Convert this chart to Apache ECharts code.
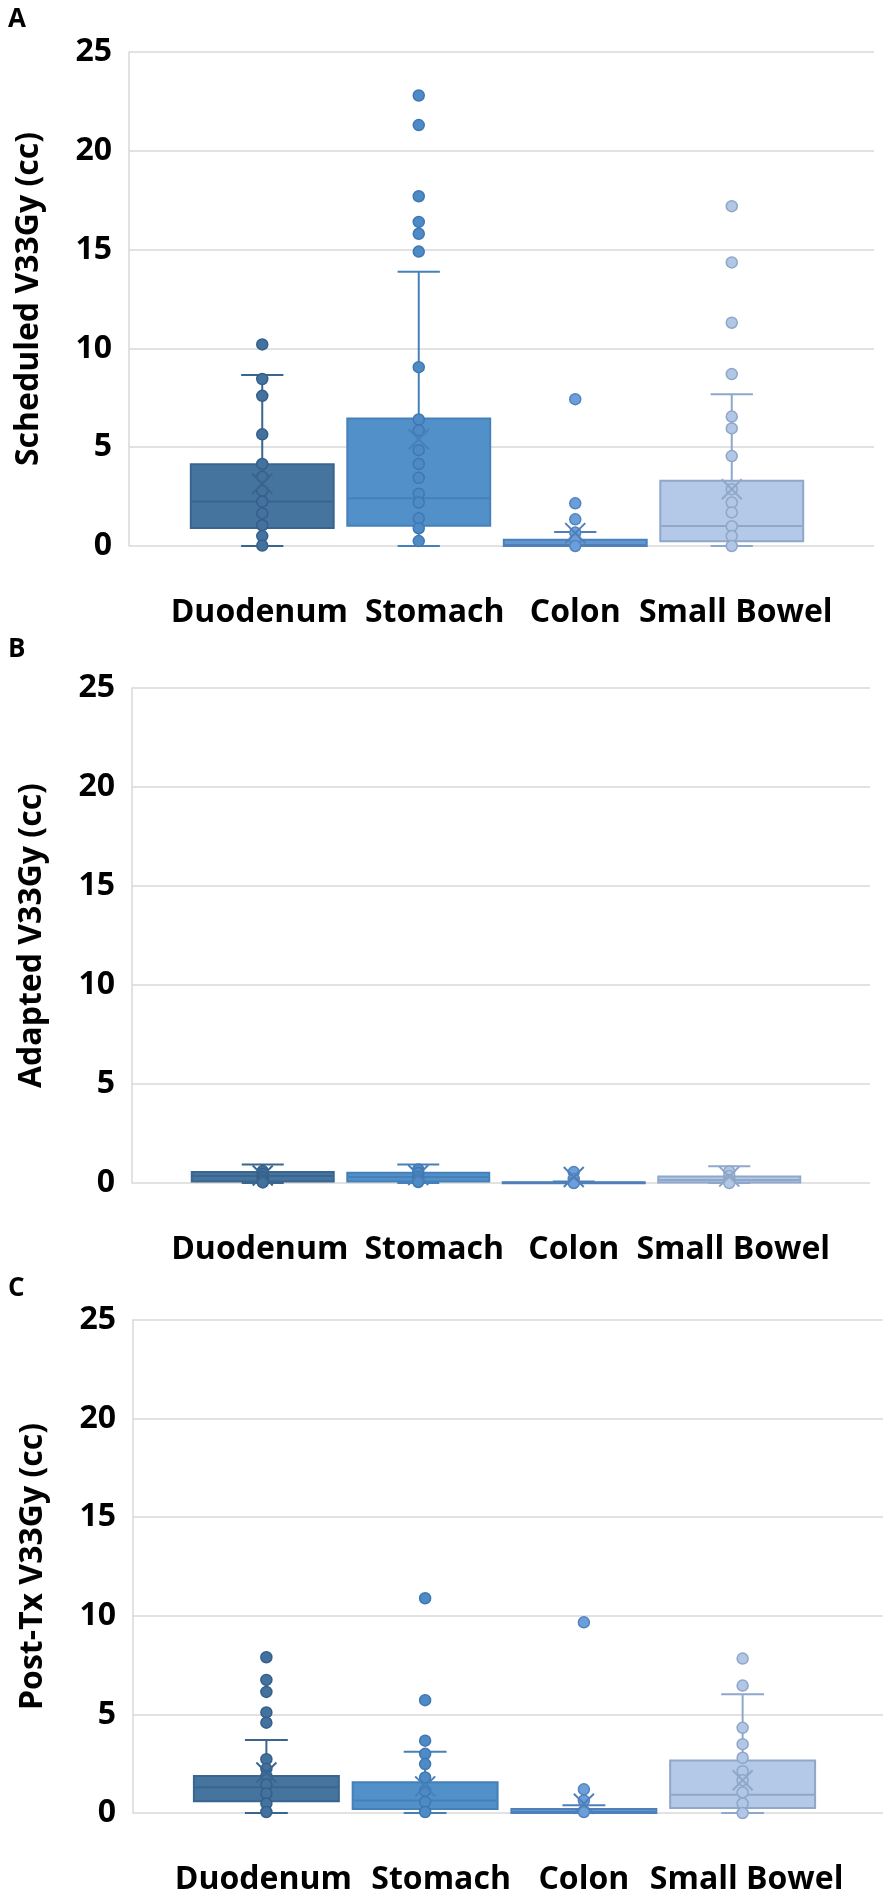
<!DOCTYPE html>
<html>
<head>
<meta charset="utf-8">
<script src="https://cdn.jsdelivr.net/npm/echarts/dist/echarts.min.js"></script>
<style>
html,body{margin:0;padding:0;background:#fff;}
#chart{width:886px;height:1896px;}
</style>
</head>
<body>
<div id="chart"></div>
<script>
// ---------- DATA ----------
const categories = ['Duodenum', 'Stomach', 'Colon', 'Small Bowel'];
const yTicks = [0, 5, 10, 15, 20, 25];

// Box stats per category: [min whisker, Q1, median, Q3, max whisker]
const schedBox = [
  [0, 0.91, 2.25, 4.14, 8.65],
  [0, 1.03, 2.42, 6.45, 13.88],
  [0, 0, 0.05, 0.32, 0.71],
  [0, 0.24, 1.01, 3.30, 7.68]
];
const schedMean = [3.15, 5.4, 0.65, 2.87];
const schedDuodenum = [10.2, 8.45, 7.6, 5.65, 4.15, 3.5, 2.8, 2.25, 1.65, 1.05, 0.5, 0.02];
const schedStomach = [22.8, 21.3, 17.7, 16.4, 15.8, 14.9, 9.05, 6.4, 5.85, 4.85, 4.15, 3.45, 2.65, 2.2, 1.4, 0.9, 0.25];
const schedColon = [7.43, 2.16, 1.35, 0.68, 0.32, 0];
const schedSmallBowel = [17.2, 14.35, 11.3, 8.7, 6.55, 5.95, 4.55, 2.87, 2.2, 1.7, 1.0, 0.5, 0];

const adaptBox = [
  [0, 0.08, 0.35, 0.55, 0.94],
  [0, 0.08, 0.3, 0.52, 0.94],
  [0, 0, 0.01, 0.04, 0.08],
  [0, 0.03, 0.15, 0.33, 0.84]
];
const adaptMean = [0.38, 0.4, 0.3, 0.33];
const adaptDuodenum = [0.6, 0.45, 0.3, 0.15, 0.03];
const adaptStomach = [0.68, 0.5, 0.3, 0.15, 0.05];
const adaptColon = [0.55, 0.2, 0.02, 0];
const adaptSmallBowel = [0.58, 0.35, 0.15, 0.05, 0];

const postBox = [
  [0, 0.6, 1.31, 1.87, 3.7],
  [0, 0.2, 0.64, 1.56, 3.1],
  [0, 0, 0.05, 0.2, 0.39],
  [0, 0.25, 0.93, 2.66, 6.02]
];
const postMean = [2.05, 1.35, 0.47, 1.66];
const postDuodenum = [7.9, 6.75, 6.14, 5.1, 4.58, 2.73, 2.24, 1.87, 1.44, 0.99, 0.48, 0.05];
const postStomach = [10.89, 5.72, 3.67, 3.0, 2.48, 1.8, 1.12, 0.56, 0.05];
const postColon = [9.67, 1.2, 0.64, 0.05];
const postSmallBowel = [7.83, 6.46, 4.32, 3.49, 2.8, 2.12, 1.66, 1.04, 0.48, 0];

// ---------- STYLE ----------
const FONT = "'Open Sans', 'Liberation Sans', sans-serif";
const boxFill   = ['#45749f', '#5290c9', '#6096d2', '#b4c8e7'];
const boxStroke = ['#3a658f', '#4680b9', '#4e7fb8', '#8fa7c9'];
const ptFill    = ['#43729e', '#4e8bc6', '#6a9fdb', '#b2c7e6'];
const ptStroke  = ['#355f8a', '#3f78b1', '#5483bd', '#8ea6c8'];
const labelPad  = [[0, 6, 0, 0], [0, 0, 0, 32], [0, 0, 0, 0], [0, 0, 0, 8]];
const gridColor = '#d9d9d9';

const panels = [
  { letter: 'A', letterTop: 7, title: 'Scheduled V33Gy (cc)', box: schedBox, mean: schedMean,
    pts: [schedDuodenum, schedStomach, schedColon, schedSmallBowel],
    outer: { left: 129, right: 12, top: 52, height: 494 },
    inner: { left: 184, right: 76, top: 52, height: 494 } },
  { letter: 'B', letterTop: 637, title: 'Adapted V33Gy (cc)', box: adaptBox, mean: adaptMean,
    pts: [adaptDuodenum, adaptStomach, adaptColon, adaptSmallBowel],
    outer: { left: 132, right: 16, top: 688, height: 495 },
    inner: { left: 185, right: 79, top: 688, height: 495 } },
  { letter: 'C', letterTop: 1276, title: 'Post-Tx V33Gy (cc)', box: postBox, mean: postMean,
    pts: [postDuodenum, postStomach, postColon, postSmallBowel],
    outer: { left: 133, right: 3, top: 1320, height: 493 },
    inner: { left: 187, right: 64, top: 1320, height: 493 } }
];

function boxRender(params, api) {
  const i = api.value(0);
  const band = api.size([1, 0])[0];
  const bw = band * 0.913, cw = band * 0.27;
  const c = v => api.coord([i, v]);
  const pMin = c(api.value(1)), pQ1 = c(api.value(2)), pMed = c(api.value(3)),
        pQ3 = c(api.value(4)), pMax = c(api.value(5));
  const cx = pMin[0];
  const fill = boxFill[i], stroke = boxStroke[i];
  const ls = { stroke: stroke, lineWidth: 2 };
  return { type: 'group', children: [
    { type: 'line', shape: { x1: cx, y1: pQ3[1], x2: cx, y2: pMax[1] }, style: ls },
    { type: 'line', shape: { x1: cx, y1: pQ1[1], x2: cx, y2: pMin[1] }, style: ls },
    { type: 'line', shape: { x1: cx - cw / 2, y1: pMax[1], x2: cx + cw / 2, y2: pMax[1] }, style: ls },
    { type: 'line', shape: { x1: cx - cw / 2, y1: pMin[1], x2: cx + cw / 2, y2: pMin[1] }, style: ls },
    { type: 'rect', shape: { x: cx - bw / 2, y: pQ3[1], width: bw, height: Math.max(pQ1[1] - pQ3[1], 1) },
      style: { fill: fill, stroke: stroke, lineWidth: 2 } },
    { type: 'line', shape: { x1: cx - bw / 2 + 1, y1: pMed[1], x2: cx + bw / 2 - 1, y2: pMed[1] }, style: ls }
  ]};
}

function meanRender(params, api) {
  const i = api.value(0);
  const p = api.coord([i, api.value(1)]);
  const h = 10;
  const ls = { stroke: boxStroke[i], lineWidth: 2 };
  return { type: 'group', children: [
    { type: 'line', shape: { x1: p[0] - h, y1: p[1] - h, x2: p[0] + h, y2: p[1] + h }, style: ls },
    { type: 'line', shape: { x1: p[0] - h, y1: p[1] + h, x2: p[0] + h, y2: p[1] - h }, style: ls }
  ]};
}

const grid = [], xAxis = [], yAxis = [], series = [], graphic = [];

panels.forEach((P, k) => {
  const go = 2 * k, gi = 2 * k + 1;
  grid.push(Object.assign({ containLabel: false, outerBoundsMode: 'none' }, P.outer));
  grid.push(Object.assign({ containLabel: false, outerBoundsMode: 'none' }, P.inner));

  xAxis.push({ type: 'value', gridIndex: go, min: 0, max: 1, show: false });
  yAxis.push({
    type: 'value', gridIndex: go, min: yTicks[0], max: yTicks[yTicks.length - 1], interval: 5,
    name: P.title, nameLocation: 'middle', nameRotate: 90, nameGap: 84,
    nameTextStyle: { fontFamily: FONT, fontWeight: 'bold', fontSize: 32, color: '#000' },
    axisLine: { show: true, lineStyle: { color: gridColor, width: 1.5 } },
    axisTick: { show: false },
    axisLabel: { fontFamily: FONT, fontWeight: 'bold', fontSize: 32, color: '#000', margin: 17 },
    splitLine: { show: true, lineStyle: { color: gridColor, width: 1.5 } }
  });

  xAxis.push({
    type: 'category', gridIndex: gi,
    data: categories.map((c, i) => ({ value: c, textStyle: { padding: labelPad[i] } })),
    boundaryGap: true,
    axisLine: { show: false }, axisTick: { show: false },
    axisLabel: { fontFamily: FONT, fontWeight: 'bold', fontSize: 32, color: '#000',
                 margin: 50, verticalAlign: 'top', lineHeight: 34, interval: 0 },
    splitLine: { show: false }
  });
  yAxis.push({ type: 'value', gridIndex: gi, min: yTicks[0], max: yTicks[yTicks.length - 1], show: false });

  series.push({
    type: 'custom', xAxisIndex: gi, yAxisIndex: gi, z: 2, silent: true,
    renderItem: boxRender,
    encode: { x: 0, y: [1, 2, 3, 4, 5] },
    data: P.box.map((b, i) => [i].concat(b))
  });

  P.pts.forEach((arr, i) => {
    series.push({
      type: 'scatter', xAxisIndex: gi, yAxisIndex: gi, z: 3, silent: true,
      symbol: 'circle', symbolSize: 11,
      itemStyle: { color: ptFill[i], borderColor: ptStroke[i], borderWidth: 1.5, opacity: 1 },
      data: arr.map(v => [i, v])
    });
  });

  series.push({
    type: 'custom', xAxisIndex: gi, yAxisIndex: gi, z: 4, silent: true,
    renderItem: meanRender,
    encode: { x: 0, y: 1 },
    data: P.mean.map((m, i) => [i, m])
  });

  graphic.push({
    type: 'text', left: 8, top: P.letterTop,
    style: { text: P.letter, fontFamily: FONT, fontWeight: 'bold', fontSize: 26, fill: '#000' }
  });
});

const chart = echarts.init(document.getElementById('chart'), null, { renderer: 'canvas' });
chart.setOption({
  animation: false,
  backgroundColor: '#ffffff',
  grid: grid, xAxis: xAxis, yAxis: yAxis, series: series, graphic: graphic
});
</script>
</body>
</html>
